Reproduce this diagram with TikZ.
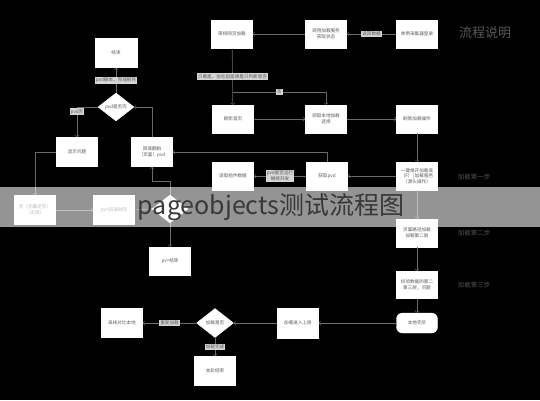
\documentclass[tikz,border=0pt]{standalone}
\usepackage{fontspec}
\setmainfont{Noto Sans CJK SC}
\usepackage{xcolor}
\usetikzlibrary{shapes.geometric}
\definecolor{boxtext}{HTML}{5A5A5A}
\definecolor{linegray}{HTML}{6A6A6A}
\definecolor{tagfill}{HTML}{D6D6D6}
\definecolor{notegray}{HTML}{505050}

\begin{document}
\begin{tikzpicture}[x=1pt, y=-1pt, node distance=57pt,
    box/.style={draw=white, fill=white, rectangle, minimum width=41pt, minimum height=28pt, inner sep=1pt, align=center, text=boxtext, font=\fontsize{4.6}{5.6}\selectfont},
    decide/.style={draw=white, fill=white, diamond, aspect=1.3, minimum width=36pt, minimum height=28pt, inner sep=0pt, align=center, text=boxtext, font=\fontsize{4.6}{5.6}\selectfont},
    tag/.style={fill=tagfill, inner sep=1pt, align=center, text=boxtext, font=\fontsize{4.6}{5.6}\selectfont},
    note/.style={text=notegray, font=\fontsize{6.5}{8}\selectfont},
    line/.style={draw=linegray, line width=0.6pt}]
    % Background
    \fill[black] (0,0) rectangle (540,400);
    \useasboundingbox (0,0) rectangle (540,400);

    % Top row
    \node[box] (load) at (232,34) {审核网页加载};
    \node[box] (serv) at (326,34) {调用加载服务\\获取状态};
    \node[box] (coll) at (417,34) {单例采集器登录};
    \node[text=black!65, font=\fontsize{13}{15}\selectfont] (title) at (485,33) {流程说明};

    % Loading column
    \node[box, below of=coll, node distance=85pt] (refr) {刷新加载操作};
    \node[box, below of=refr] (first) {一键单开加载底\\（F）| 加载服务\\（源头操作）};
    \node[box, below of=first] (second) {页面路径加载\\加载第二层};
    \node[box, below of=second, node distance=52pt, minimum height=27pt] (third) {校验数据的第二\\第三层，问题};
    \node[box, below of=third, node distance=38pt, rounded corners=6pt, minimum height=20pt] (done) {本地完毕};

    % Steps
    \node[note] (step1) at (474,177) {加载第一步};
    \node[note] (step2) at (474,233) {加载第二步};
    \node[note] (step3) at (474,285) {加载第三步};

    % Middle
    \node[box] (home) at (233,119) {刷新首页};
    \node[box] (local) at (326,119) {调取本地加载\\选择};
    \node[box, left of=first, node distance=90pt] (getp) {获取pvd};
    \node[box, left of=getp, node distance=94pt] (rep) {读取组件数据};
    \coordinate (fork) at (233,92);

    % Left part
    \node[box, minimum width=42pt, minimum height=29pt] (end) at (116,53) {结束};
    \node[decide] (chk) at (116,107) {pvd是否完};
    \node[box, minimum height=29pt] (show) at (77,152) {显示问题};
    \node[box, minimum height=29pt] (fill) at (152,152) {回填翻拍\\（页面）pvd};
    \node[box, minimum height=29pt] (nob) at (35,210) {否（无确定页）\\（无效）};
    \node[box, minimum height=29pt] (pvr) at (114,210) {pv=回滚时间};
    \node[decide] (chk2) at (170,209) {};
    \node[box] (pve) at (170,261) {pv=结束};

    % Bottom row
    \node[box, minimum height=30pt] (up) at (298,323) {加载进入上层};
    \node[decide, minimum width=37pt, minimum height=29pt] (cont) at (215,323) {加载是否};
    \node[box, minimum height=29pt] (samp) at (122,323) {采样对比本地};
    \node[box, minimum height=29pt] (fin) at (215,371) {本轮结束};

    % Arrows
    \draw[line, ->] (coll) -- node[tag] {返回数据} (serv);
    \draw[line, ->] (serv) -- (load);
    \draw[line, ->] (load) -- node[tag] {只看是，加在前面便是只判断是否} (home);
    \draw[line, ->] (fork) -| node[tag, pos=0.25] {否} (local);
    \draw[line, ->] (home) -- (local);
    \draw[line, ->] (local) -- (refr);
    \draw[line, ->] (refr) -- (first);
    \draw[line, ->] (first) -- (getp);
    \draw[line, ->] (getp) -- node[tag] {pvd能否运行\\继续开发} (rep);
    \draw[line, ->] (getp.north) |- (fill.east);
    \draw[line, ->] (first) -- (second);
    \draw[line, ->] (second) -- (third);
    \draw[line, ->] (third) -- (done);
    \draw[line, ->] (done) -- (up);
    \draw[line, ->] (up) -- (cont);
    \draw[line, ->] (cont) -- node[tag] {重复加载} (samp);
    \draw[line, ->] (cont) -- node[tag] {加载完成} (fin);
    \draw[line, ->] (fill.north) |- (chk.east);
    \draw[line, ->] (chk) -- node[tag] {pvd脚本，完成报告} (end);
    \draw[line, ->] (chk.west) -| node[tag, pos=0.58] {pvd否} (show.north);
    \draw[line, ->] (show.west) -| (nob.north);
    \draw[line, ->] (nob) -- (pvr);
    \draw[line, ->] (pvr) -- (chk2);
    \draw[line, ->] (chk2.north) -- ++(0,-14) -| (fill.south);
    \draw[line, ->] (chk2) -- (pve);

    % Banner
    \fill[white, opacity=0.58] (0,187) rectangle (540,227);
    \node[text=black!78, font=\fontsize{25}{28}\selectfont, inner sep=0pt] (banner) at (271,207) {pageobjects测试流程图};
\end{tikzpicture}
\end{document}
